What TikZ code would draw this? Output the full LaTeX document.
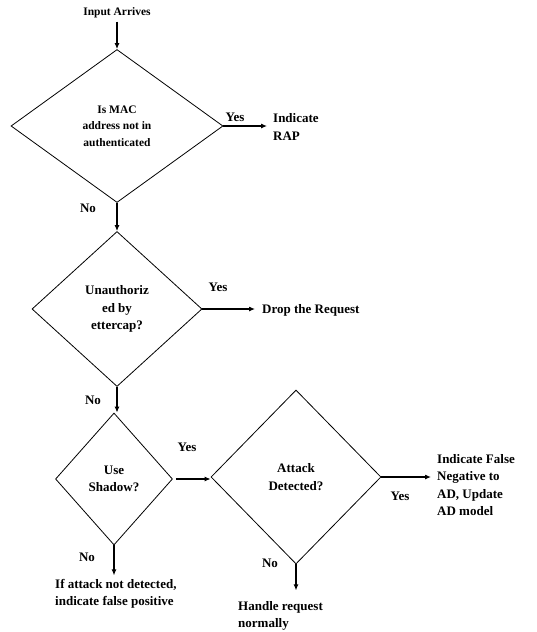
\documentclass[tikz,border=0pt]{standalone}
\usepackage{fontspec}
\setmainfont{Liberation Serif}
\usetikzlibrary{shapes.geometric,arrows.meta}

\begin{document}
\begin{tikzpicture}[x=1pt,y=-1pt,
    every node/.style={font=\bfseries\fontsize{13}{17.5}\selectfont},
    small/.style={font=\bfseries\fontsize{11.5}{16.5}\selectfont},
    decision/.style={draw,diamond,line width=0.8pt,inner sep=0pt,align=center},
    txt/.style={inner sep=3pt,align=left,anchor=west},
    arr/.style={line width=1.1pt,-{Latex[length=6pt,width=5pt]}}]
    \useasboundingbox (0,0) rectangle (537,632);
    \node[small] (inp) at (117,13) {Input Arrives};
    \node[decision,small,minimum width=212pt,minimum height=153pt] (mac) at (117,126) {Is MAC\\address not in\\authenticated};
    \node[decision,minimum width=170pt,minimum height=155pt] (una) at (117,309) {Unauthoriz\\ed by\\ettercap?};
    \node[decision,minimum width=117pt,minimum height=132pt] (shd) at (114,479) {Use\\Shadow?};
    \node[decision,minimum width=170pt,minimum height=174pt] (atk) at (296,477) {Attack\\Detected?};
    \node[txt] (rap) at (270,127) {Indicate\\RAP};
    \node[txt] (drop) at (259,310) {Drop the Request};
    \node[txt] (fneg) at (434,485) {Indicate False\\Negative to\\AD, Update\\AD model};
    \node[txt] (fpos) at (52,594) {If attack not detected,\\indicate false positive};
    \node[txt] (norm) at (235,616) {Handle request\\normally};
    \node (y1) at (235,117) {Yes};
    \node (n1) at (88,208) {No};
    \node (y2) at (218,287) {Yes};
    \node (n2) at (93,400) {No};
    \node (y3) at (187,447) {Yes};
    \node (n3) at (87,557) {No};
    \node (y4) at (400,496) {Yes};
    \node (n4) at (270,563) {No};
    \draw[arr] (inp) -- (mac);
    \draw[arr] (mac) -- (una);
    \draw[arr] (una.south) -- (una.south |- shd.north);
    \draw[arr,shorten >=3pt] (mac.east) -- (mac.east -| rap.west);
    \draw[arr,shorten >=4pt] (una.east) -- (una.east -| drop.west);
    \draw[arr,shorten <=3pt] (shd.east) -- (shd.east -| atk.west);
    \draw[arr,shorten >=3pt] (atk.east) -- (atk.east -| fneg.west);
    \draw[arr] (shd.south) -- ++(0,30);
    \draw[arr] (atk.south) -- ++(0,26);
\end{tikzpicture}
\end{document}
